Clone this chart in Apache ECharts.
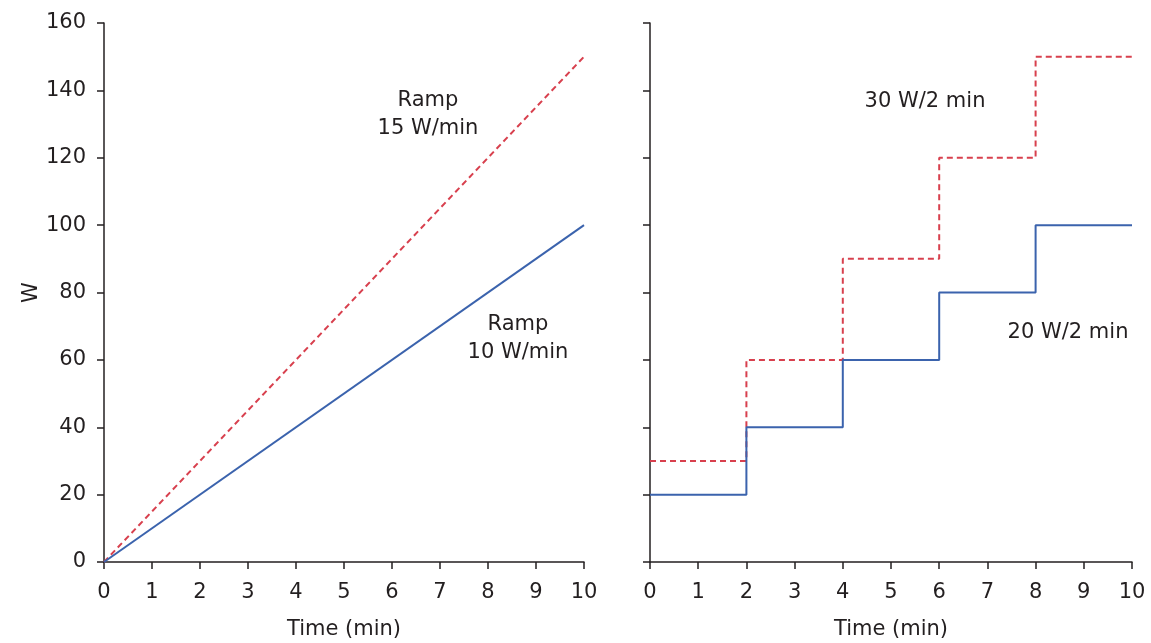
<!DOCTYPE html>
<html>
<head>
<meta charset="utf-8">
<script src="https://cdn.jsdelivr.net/npm/echarts@6/dist/echarts.min.js"></script>
<style>
  html, body { margin: 0; padding: 0; background: #fff; }
  #chart { width: 1151px; height: 643px; }
</style>
</head>
<body>
<div id="chart"></div>
<script>
// ramp protocols (left panel): time in min, W
var rampTime = [0, 10];
var ramp10 = [0, 100];
var ramp15 = [0, 150];

// step protocols (right panel): W at each step start
var stepTime = [0, 2, 4, 6, 8, 10];
var step20 = [20, 40, 60, 80, 100, 100];
var step30 = [30, 60, 90, 120, 150, 150];

var xTicks = [0, 1, 2, 3, 4, 5, 6, 7, 8, 9, 10];
var yTicks = [0, 20, 40, 60, 80, 100, 120, 140, 160];

var BLUE = '#3b63ad';
var RED = '#d8404e';
var INK = '#231f20';
var FONT = '"DejaVu Sans", sans-serif';
var FS = 21;

function pairs(xs, ys) {
    var out = [];
    for (let i = 0; i < xs.length; i++) {
        out.push([xs[i], ys[i]]);
    }
    return out;
}

function xAxisFor(gridIndex) {
    return {
        type: 'value',
        gridIndex: gridIndex,
        min: xTicks[0],
        max: xTicks[xTicks.length - 1],
        interval: 1,
        name: 'Time (min)',
        nameLocation: 'middle',
        nameGap: 57,
        nameTextStyle: { color: INK, fontSize: FS, fontFamily: FONT },
        axisLine: { lineStyle: { color: INK, width: 1.5 } },
        axisTick: { inside: false, length: 7, lineStyle: { color: INK, width: 1.5 } },
        axisLabel: { color: INK, fontSize: FS, fontFamily: FONT, margin: 20 },
        splitLine: { show: false }
    };
}

function yAxisFor(gridIndex, showLabels) {
    return {
        type: 'value',
        gridIndex: gridIndex,
        min: yTicks[0],
        max: yTicks[yTicks.length - 1],
        interval: 20,
        name: showLabels ? 'W' : '',
        nameLocation: 'middle',
        nameGap: 62,
        nameTextStyle: { color: INK, fontSize: FS, fontFamily: FONT },
        axisLine: { show: true, lineStyle: { color: INK, width: 1.5 } },
        axisTick: { show: true, inside: false, length: 7, lineStyle: { color: INK, width: 1.5 } },
        axisLabel: { show: showLabels, color: INK, fontSize: FS, fontFamily: FONT, margin: 18 },
        splitLine: { show: false }
    };
}

function note(x, y, text) {
    return {
        type: 'text', x: x, y: y,
        style: { text: text, fill: INK, font: FS + 'px ' + FONT, align: 'center', verticalAlign: 'middle', lineHeight: 28 }
    };
}

var chart = echarts.init(document.getElementById('chart'));

var option = {
    backgroundColor: '#fff',
    animation: false,
    grid: [
        { left: 104, top: 23, width: 480, bottom: 81, outerBoundsMode: 'none' },
        { left: 650, top: 23, width: 482, bottom: 81, outerBoundsMode: 'none' }
    ],
    xAxis: [xAxisFor(0), xAxisFor(1)],
    yAxis: [yAxisFor(0, true), yAxisFor(1, false)],
    series: [
        {
            name: 'Ramp 15 W/min',
            type: 'line',
            xAxisIndex: 0, yAxisIndex: 0,
            data: pairs(rampTime, ramp15),
            showSymbol: false,
            lineStyle: { color: RED, width: 2, type: [6, 4] }
        },
        {
            name: 'Ramp 10 W/min',
            type: 'line',
            xAxisIndex: 0, yAxisIndex: 0,
            data: pairs(rampTime, ramp10),
            showSymbol: false,
            lineStyle: { color: BLUE, width: 2 }
        },
        {
            name: '30 W/2 min',
            type: 'line',
            step: 'end',
            xAxisIndex: 1, yAxisIndex: 1,
            data: pairs(stepTime, step30),
            showSymbol: false,
            lineStyle: { color: RED, width: 2, type: [6, 4] }
        },
        {
            name: '20 W/2 min',
            type: 'line',
            step: 'end',
            xAxisIndex: 1, yAxisIndex: 1,
            data: pairs(stepTime, step20),
            showSymbol: false,
            lineStyle: { color: BLUE, width: 2 }
        }
    ],
    graphic: [
        note(428, 115, 'Ramp\n15 W/min'),
        note(518, 339, 'Ramp\n10 W/min'),
        note(925, 102, '30 W/2 min'),
        note(1068, 333, '20 W/2 min')
    ]
};

chart.setOption(option);
</script>
</body>
</html>
